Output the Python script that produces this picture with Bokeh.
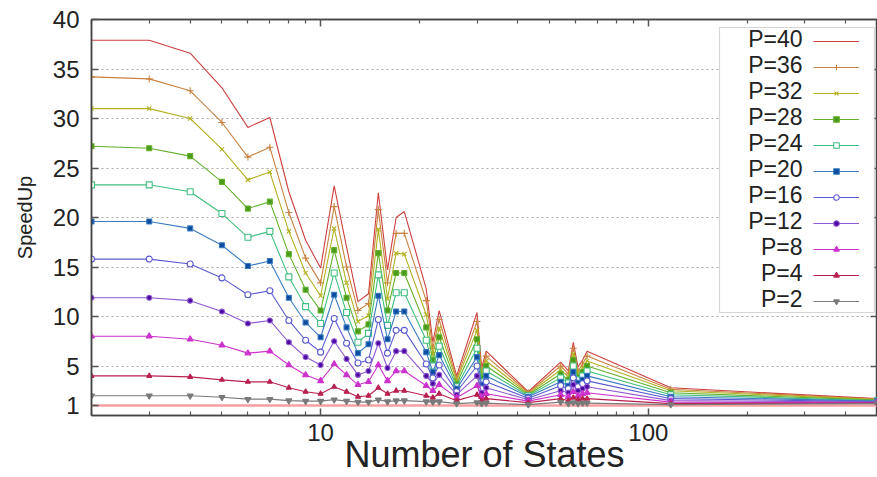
from bokeh.plotting import figure
from bokeh.models import (LinearAxis, LogAxis, FixedTicker, Legend, LegendItem,
                          Label, BoxAnnotation, Range1d)
from bokeh.embed import file_html
from bokeh.resources import INLINE

# ---------------- data ----------------
n_states = [2, 3, 4, 5, 6, 7, 8, 9, 10, 11, 12, 13, 14, 15, 16, 17, 18, 21, 22, 23,
            26, 30, 31, 32, 43, 54, 57, 59, 61, 63, 65, 117, 500]

p40 = [37.9, 37.9, 36.6, 33.1, 29.1, 30.1, 22.6, 17.7, 14.9, 23.2, 17.0, 11.5, 12.3, 22.5, 14.7, 20.0, 20.6,
       12.8, 7.4, 10.6, 4.0, 10.4, 4.8, 6.5, 2.4, 5.4, 4.5, 7.4, 4.9, 5.6, 6.5, 2.8, 1.7]
p36 = [34.2, 34.0, 32.8, 29.6, 26.1, 27.1, 20.5, 15.9, 13.4, 21.1, 15.0, 10.6, 11.3, 20.8, 13.4, 18.4, 18.4,
       11.6, 6.8, 9.7, 3.7, 9.5, 4.4, 6.0, 2.3, 5.0, 4.2, 6.8, 4.5, 5.2, 6.0, 2.65, 1.65]
p32 = [31.0, 31.0, 30.0, 26.9, 23.8, 24.6, 18.6, 14.4, 12.1, 18.9, 13.4, 9.5, 10.1, 18.8, 11.8, 16.4, 16.3,
       10.2, 6.2, 8.8, 3.5, 8.6, 4.1, 5.5, 2.2, 4.6, 3.9, 6.2, 4.2, 4.8, 5.5, 2.5, 1.6]
p28 = [27.2, 27.0, 26.2, 23.6, 20.9, 21.6, 16.3, 12.7, 10.6, 16.7, 11.9, 8.5, 9.2, 16.4, 10.6, 14.4, 14.4,
       8.9, 5.6, 7.9, 3.2, 7.7, 3.8, 5.0, 2.1, 4.2, 3.6, 5.6, 3.9, 4.4, 5.0, 2.3, 1.55]
p24 = [23.3, 23.3, 22.6, 20.4, 18.0, 18.6, 14.0, 11.0, 9.3, 14.4, 10.4, 7.4, 8.3, 14.2, 9.1, 12.4, 12.4,
       7.6, 5.0, 7.0, 2.9, 6.8, 3.4, 4.5, 2.0, 3.8, 3.3, 5.0, 3.6, 4.0, 4.5, 2.1, 1.5]
p20 = [19.6, 19.6, 18.9, 17.2, 15.1, 15.6, 11.9, 9.4, 7.9, 12.2, 8.9, 6.3, 7.2, 12.1, 7.7, 10.5, 10.5,
       6.4, 4.4, 6.1, 2.7, 5.9, 3.1, 4.0, 1.9, 3.4, 3.0, 4.4, 3.3, 3.6, 4.0, 1.9, 1.45]
p16 = [15.8, 15.8, 15.3, 13.9, 12.2, 12.6, 9.6, 7.6, 6.4, 9.8, 7.3, 5.3, 5.6, 9.7, 6.3, 8.6, 8.6,
       5.2, 3.8, 5.1, 2.4, 5.0, 2.7, 3.4, 1.75, 3.0, 2.7, 3.8, 2.9, 3.2, 3.5, 1.7, 1.4]
p12 = [11.9, 11.9, 11.6, 10.5, 9.3, 9.6, 7.4, 5.9, 5.1, 7.5, 5.7, 4.1, 4.5, 7.3, 4.8, 6.5, 6.5,
       4.0, 3.2, 4.1, 2.1, 4.0, 2.3, 2.8, 1.6, 2.5, 2.3, 3.1, 2.5, 2.7, 2.9, 1.5, 1.35]
p8 = [8.0, 8.0, 7.7, 7.1, 6.3, 6.5, 5.1, 4.1, 3.5, 5.2, 4.1, 3.1, 3.4, 5.1, 3.5, 4.5, 4.5,
      3.0, 2.5, 3.1, 1.8, 3.0, 1.9, 2.2, 1.45, 2.1, 1.9, 2.4, 2.0, 2.2, 2.3, 1.35, 1.3]
p4 = [4.0, 4.0, 3.9, 3.6, 3.4, 3.4, 2.8, 2.4, 2.2, 2.9, 2.4, 1.9, 2.0, 2.8, 2.2, 2.5, 2.5,
      2.0, 1.8, 2.2, 1.5, 2.1, 1.5, 1.7, 1.3, 1.7, 1.5, 1.8, 1.6, 1.7, 1.7, 1.2, 1.25]
p2 = [2.0, 2.0, 2.0, 1.85, 1.65, 1.65, 1.5, 1.45, 1.45, 1.6, 1.45, 1.35, 1.35, 1.6, 1.4, 1.5, 1.5,
      1.4, 1.35, 1.4, 1.2, 1.3, 1.2, 1.25, 1.1, 1.35, 1.2, 1.3, 1.2, 1.25, 1.25, 1.1, 1.2]

series_labels = ["P=40", "P=36", "P=32", "P=28", "P=24", "P=20", "P=16", "P=12", "P=8", "P=4", "P=2"]
series_values = [p40, p36, p32, p28, p24, p20, p16, p12, p8, p4, p2]

baseline_x = [2, 500]
baseline_y = [1, 1]

y_ticks = [1, 5, 10, 15, 20, 25, 30, 35, 40]
x_major_ticks = [10, 100]
x_tick_labels = {10: "10", 100: "100"}
x_minor_ticks = [2, 3, 4, 5, 6, 7, 8, 9, 20, 30, 40, 50, 60, 70, 80, 90, 200, 300, 400, 500]

# ---------------- styles ----------------
styles = [
    dict(color="#cc3f3f", marker=None, mfill=None, size=0),
    dict(color="#c9823f", marker="cross", mfill="#c9823f", size=7),
    dict(color="#b2b222", marker="x", mfill="#b2b222", size=6),
    dict(color="#63b02c", marker="square", mfill="#4c9a1c", size=5),
    dict(color="#3fbf7f", marker="square", mfill="white", size=6),
    dict(color="#3a7cc4", marker="square", mfill="#0b4c9c", size=5),
    dict(color="#5a5ad0", marker="circle", mfill="white", size=6),
    dict(color="#9058d0", marker="circle", mfill="#4a0aa0", size=5),
    dict(color="#cc33cc", marker="triangle", mfill="#cc33cc", size=6),
    dict(color="#b8224e", marker="triangle", mfill="#b8224e", size=5),
    dict(color="#7a7a7a", marker="inverted_triangle", mfill="#7a7a7a", size=6),
]

FONT = "Liberation Sans"
FL, FT = 91, 21
FW, FH = 786, 394

p = figure(width=877, height=477, x_axis_type="log",
           x_range=Range1d(2, 500), y_range=Range1d(0, 40),
           output_backend="svg", toolbar_location=None,
           min_border_left=FL, min_border_right=0, min_border_top=FT - 2,
           min_border_bottom=477 - FT - FH)
p.background_fill_color = "white"
p.border_fill_color = "white"
p.outline_line_color = "#444444"
p.outline_line_width = 1.5

# grid
p.xgrid.visible = False
p.ygrid.ticker = FixedTicker(ticks=y_ticks[1:-1])
p.ygrid.grid_line_color = "#a8a8a8"
p.ygrid.grid_line_dash = "2 3"
p.ygrid.grid_line_width = 1

# reference line
p.line(baseline_x, baseline_y, line_color="#f5a0a0", line_width=2.5)

items = []
for lab, vals, st in zip(series_labels, series_values, styles):
    rs = [p.line(n_states, vals, line_color=st["color"], line_width=1.1)]
    if st["marker"]:
        rs.append(p.scatter(n_states, vals, marker=st["marker"], size=st["size"],
                            line_color=st["color"], fill_color=st["mfill"], line_width=1.1))
    items.append(LegendItem(label=lab, renderers=rs))


def style_axis(ax, labels=True):
    ax.axis_line_color = "#444444"
    ax.axis_line_width = 1.5
    ax.major_tick_in = 7
    ax.major_tick_out = 0
    ax.minor_tick_in = 4
    ax.minor_tick_out = 0
    ax.major_tick_line_color = "#555555"
    ax.major_tick_line_width = 1.5
    ax.minor_tick_line_color = "#555555"
    ax.minor_tick_line_width = 1.2
    if labels:
        ax.major_label_text_font = FONT
        ax.major_label_text_font_size = "24px"
        ax.major_label_text_color = "#222222"
    else:
        ax.major_label_text_font_size = "1px"
        ax.major_label_text_alpha = 0
        ax.major_label_standoff = 0


# bottom axis
xb = p.xaxis[0]
xb.ticker = FixedTicker(ticks=x_major_ticks, minor_ticks=x_minor_ticks)
style_axis(xb)
xb.major_label_overrides = x_tick_labels
xb.major_label_standoff = 8
xb.axis_label = "Number of States"
xb.axis_label_text_font = FONT
xb.axis_label_text_font_size = "36px"
xb.axis_label_text_font_style = "normal"
xb.axis_label_text_color = "#222222"
xb.axis_label_standoff = -10

# left axis
yl = p.yaxis[0]
yl.ticker = FixedTicker(ticks=y_ticks)
style_axis(yl)
yl.minor_tick_in = 0
yl.major_label_standoff = 12
yl.axis_label = "SpeedUp"
yl.axis_label_text_font = FONT
yl.axis_label_text_font_size = "20px"
yl.axis_label_text_font_style = "normal"
yl.axis_label_text_color = "#222222"
yl.axis_label_standoff = 14

# mirrored axes
xt = LogAxis(ticker=FixedTicker(ticks=x_major_ticks, minor_ticks=x_minor_ticks))
style_axis(xt, labels=False)
p.add_layout(xt, "above")
yr = LinearAxis(ticker=FixedTicker(ticks=y_ticks[1:-1]))
style_axis(yr, labels=False)
yr.minor_tick_in = 0
p.add_layout(yr, "right")

# legend frame
p.add_layout(BoxAnnotation(left=628, right=783, top=FH - 6, bottom=FH - 291,
                           left_units="screen", right_units="screen",
                           top_units="screen", bottom_units="screen",
                           fill_color="white", fill_alpha=1.0,
                           line_color="#777777", line_width=1.2))

legend = Legend(items=items, location=(722, FH - 10 - 280),
                glyph_width=46, glyph_height=14, label_width=1, label_height=20,
                label_standoff=0, spacing=6, padding=0, margin=0,
                border_line_alpha=0, background_fill_alpha=0,
                label_text_font_size="1px", label_text_alpha=0)
p.add_layout(legend)

for i, lab in enumerate(series_labels):
    p.add_layout(Label(x=711, y=FH - 17.3 - 26 * i, x_units="screen", y_units="screen",
                       text=lab, text_font=FONT, text_font_size="23px",
                       text_color="#222222", text_align="right", text_baseline="middle"))

open("out.html", "w").write(file_html(p, INLINE))
